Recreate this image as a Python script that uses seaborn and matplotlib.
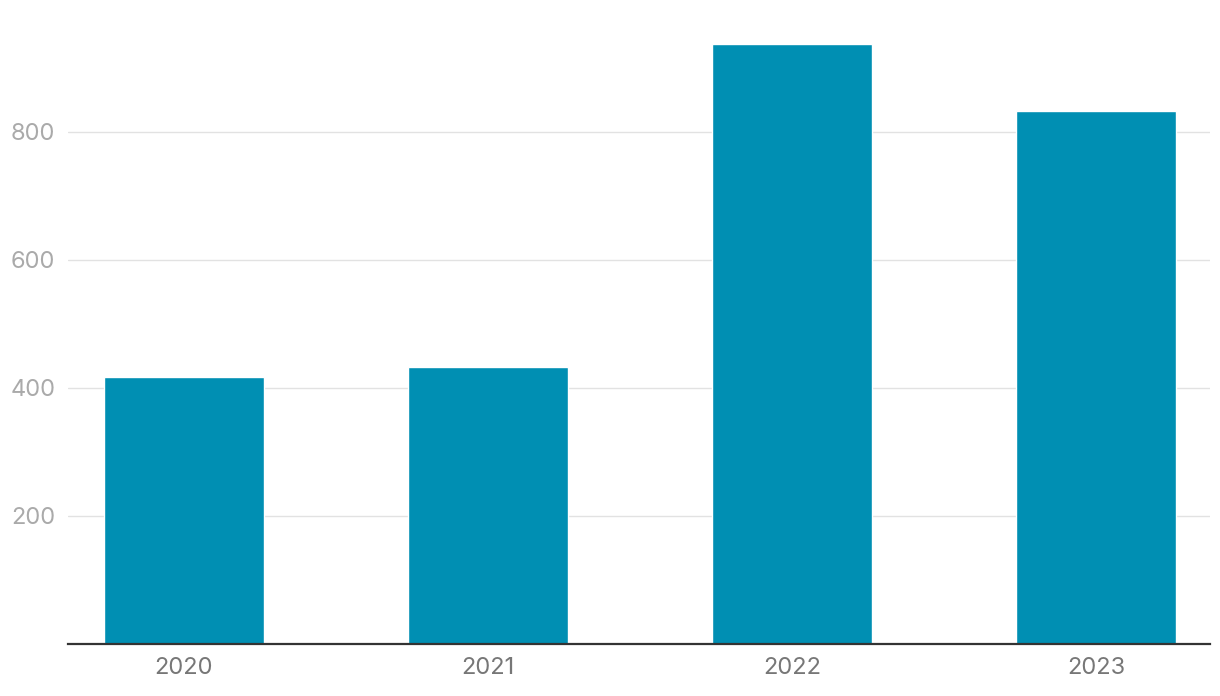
import matplotlib
matplotlib.use("Agg")
import matplotlib.pyplot as plt
import seaborn as sns
import pandas as pd

years = ["2020", "2021", "2022", "2023"]
values = [417, 433, 938, 832]
y_ticks = [200, 400, 600, 800]

sns.set_theme(style="white")
plt.rcParams["font.family"] = ["Inter", "DejaVu Sans"]

df = pd.DataFrame({"year": years, "value": values})

fig = plt.figure(figsize=(12.2, 6.96), dpi=100)
ax = fig.add_axes([68 / 1220, 52 / 696, 1142 / 1220, 644 / 696])

sns.barplot(data=df, x="year", y="value", color="#008FB3", width=0.526,
            saturation=1, ax=ax, zorder=3)

ax.set_xlim(-0.38, 3.375)
ax.set_ylim(0, 1006)
ax.set_yticks(y_ticks)
ax.yaxis.grid(True, color="#e2e2e2", linewidth=1, zorder=0)
ax.set_xlabel("")
ax.set_ylabel("")

for side in ["top", "right", "left"]:
    ax.spines[side].set_visible(False)
ax.spines["bottom"].set_color("#333333")
ax.spines["bottom"].set_linewidth(1.6)
ax.spines["bottom"].set_zorder(4)

ax.tick_params(axis="y", length=0, pad=9, labelsize=17, labelcolor="#aaaaaa")
ax.tick_params(axis="x", length=0, pad=9, labelsize=17, labelcolor="#777777")

fig.savefig("out.png", dpi=100)
